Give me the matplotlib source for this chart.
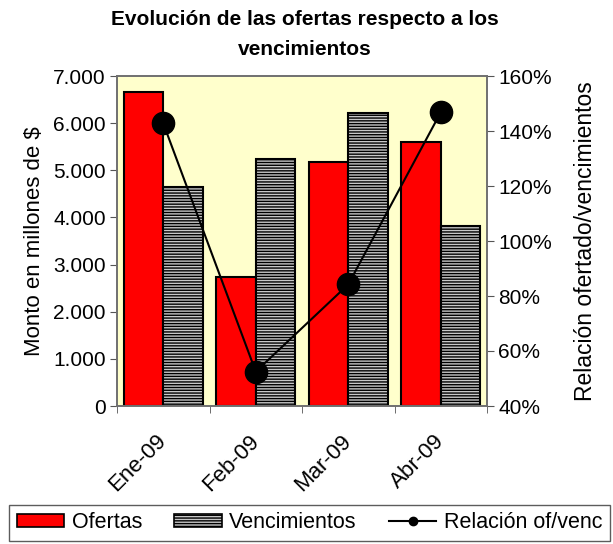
import matplotlib
matplotlib.use("Agg")
import matplotlib.pyplot as plt
import numpy as np
from matplotlib.ticker import FuncFormatter, FixedLocator
from matplotlib.lines import Line2D
from matplotlib.patches import Patch

plt.rcParams['font.family'] = ['Liberation Sans', 'DejaVu Sans']
plt.rcParams['hatch.color'] = '#4a4a4a'
plt.rcParams['hatch.linewidth'] = 1.0

categories = ["Ene-09", "Feb-09", "Mar-09", "Abr-09"]
ofertas = [6660, 2740, 5180, 5590]
vencimientos = [4650, 5230, 6210, 3820]
relacion = [142.8, 52.5, 84.2, 146.8]

FS = 15

fig = plt.figure(figsize=(6.13, 5.44), dpi=100)
ax = fig.add_axes([117/613, 1-406/544, 370/613, 330/544])
ax.set_facecolor('#ffffcc')

x = np.arange(len(categories))
w = 0.425
ax.bar(x - w/2, ofertas, w, color='#ff0000', edgecolor='black', linewidth=1.5, zorder=2)
ax.bar(x + w/2, vencimientos, w, color='#c8c8c8', edgecolor='black', linewidth=1.5,
       hatch='------', zorder=2)

ax.set_xlim(-0.5, len(categories) - 0.5)
ax.set_ylim(0, 7000)
ax.set_yticks(np.arange(0, 7001, 1000))
ax.yaxis.set_major_formatter(FuncFormatter(lambda v, p: f"{int(v):,}".replace(",", ".")))
ax.set_xticks(x)
ax.set_xticklabels(categories, rotation=45, ha='right', va='center', rotation_mode='anchor', fontsize=16)
ax.tick_params(axis='x', length=0, pad=23)
ax.xaxis.set_minor_locator(FixedLocator(np.arange(-0.5, len(categories), 1.0)))
ax.tick_params(axis='x', which='minor', length=5, direction='out', color='#555555')
ax.tick_params(axis='y', labelsize=FS, length=5, color='#555555', pad=3)
ax.set_ylabel("Monto en millones de $", fontsize=FS + 1, labelpad=6)

for s in ax.spines.values():
    s.set_color('#707070')
    s.set_linewidth(1.2)

ax2 = ax.twinx()
ax2.plot(x, relacion, color='black', linewidth=1.5, marker='o', markersize=16, zorder=3)
ax2.set_ylim(40, 160)
ax2.set_yticks(np.arange(40, 161, 20))
ax2.yaxis.set_major_formatter(FuncFormatter(lambda v, p: f"{int(v)}%"))
ax2.tick_params(axis='y', labelsize=FS, length=5, color='#555555', pad=3)
ax2.set_ylabel("Relación ofertado/vencimientos", fontsize=16.5, labelpad=16)
for s in ax2.spines.values():
    s.set_color('#707070')
    s.set_linewidth(1.2)

fig.suptitle("Evolución de las ofertas respecto a los\nvencimientos", fontsize=15,
             fontweight='bold', x=0.497, y=1 - 10/544, va='top', linespacing=1.75)

handles = [
    Patch(facecolor='#ff0000', edgecolor='black', linewidth=1.2, label='Ofertas'),
    Patch(facecolor='#c8c8c8', edgecolor='black', linewidth=1.2, hatch='------', label='Vencimientos'),
    Line2D([0], [0], color='black', linewidth=1.5, marker='o', markersize=6, label='Relación of/venc'),
]
leg = fig.legend(handles=handles, loc='lower center', bbox_to_anchor=(0.505, 0.0), ncol=3,
                 fontsize=15.5, frameon=True, fancybox=False, edgecolor='#333333',
                 handlelength=2.2, handleheight=0.6, handletextpad=0.35, columnspacing=1.5,
                 borderpad=0.35, borderaxespad=0.15)
leg.get_frame().set_linewidth(1.0)

fig.savefig("out.png", dpi=100, facecolor='white')
